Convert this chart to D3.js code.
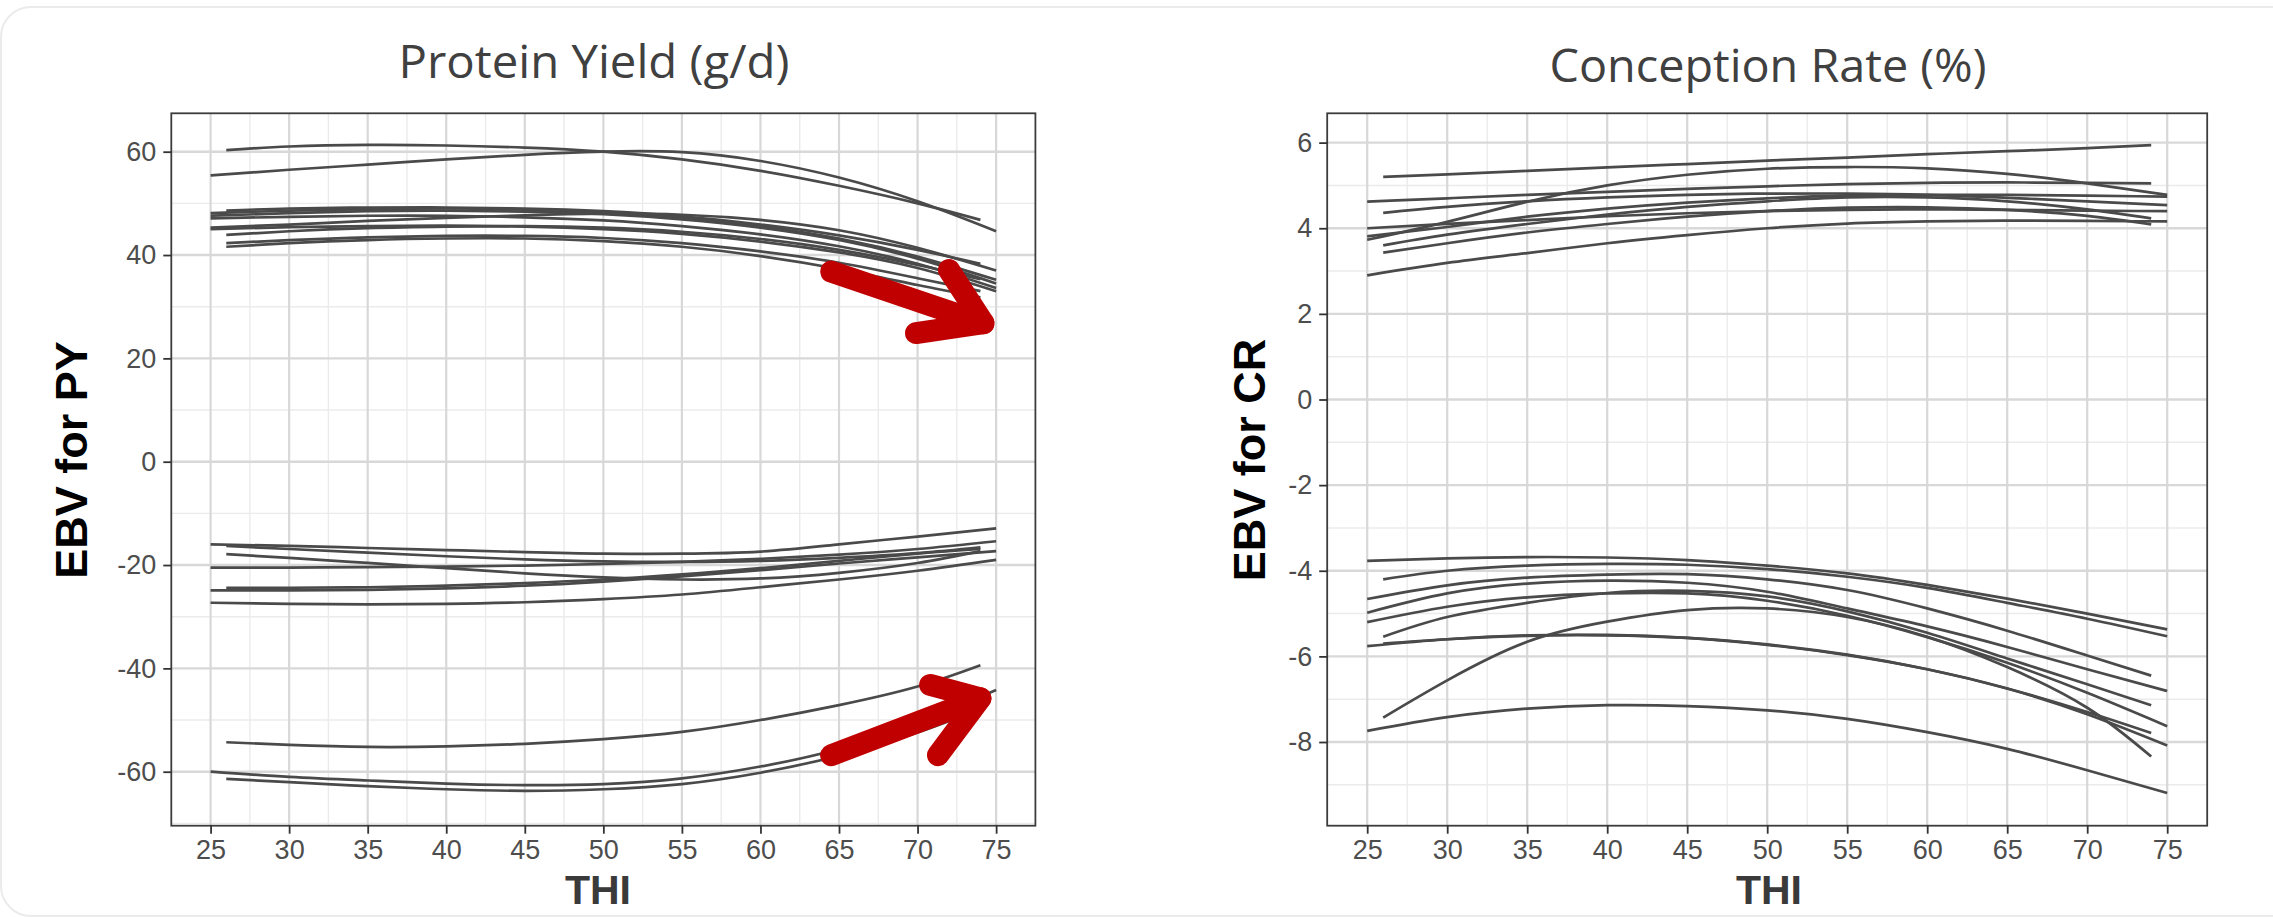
<!DOCTYPE html>
<html>
<head>
<meta charset="utf-8">
<script src="https://cdn.jsdelivr.net/npm/d3@7"></script>
<style>
  html, body { margin: 0; padding: 0; background: #ffffff; }
  svg { display: block; }
</style>
</head>
<body>
<svg id="chart" width="2273" height="917"></svg>
<script>
// THI points at which each reaction-norm curve is sampled:
// first = curve start, then 30..70 every 5, last = curve end.
const thiInner = [30, 35, 40, 45, 50, 55, 60, 65, 70];

// Protein yield EBV (g/d) across THI, one entry per sire curve
const pyCurves = [
  { from: 26, to: 74, ebv: [60.3, 61.0, 61.3, 61.2, 60.8, 60.0, 58.5, 56.3, 53.4, 50.0, 46.8] },
  { from: 25, to: 75, ebv: [55.4, 56.5, 57.5, 58.5, 59.4, 60.0, 59.9, 58.2, 55.0, 50.4, 44.6] },
  { from: 26, to: 74, ebv: [48.6, 49.0, 49.2, 49.2, 49.0, 48.5, 47.5, 45.9, 43.8, 41.0, 38.3] },
  { from: 25, to: 75, ebv: [48.1, 48.6, 48.9, 49.0, 48.8, 48.3, 47.3, 45.6, 43.2, 39.7, 35.2] },
  { from: 25, to: 75, ebv: [47.6, 48.1, 48.5, 48.6, 48.4, 47.9, 46.9, 45.3, 42.9, 39.3, 34.5] },
  { from: 25, to: 75, ebv: [45.3, 45.9, 46.6, 47.2, 47.7, 48.0, 47.8, 46.8, 44.8, 41.4, 37.0] },
  { from: 25, to: 75, ebv: [47.1, 47.4, 47.6, 47.6, 47.3, 46.7, 45.6, 44.0, 41.7, 38.3, 33.6] },
  { from: 25, to: 75, ebv: [45.0, 45.4, 45.6, 45.7, 45.5, 45.0, 44.1, 42.6, 40.5, 37.5, 33.0] },
  { from: 26, to: 74, ebv: [43.9, 44.6, 45.2, 45.5, 45.6, 45.3, 44.5, 43.1, 41.0, 38.1, 35.3] },
  { from: 26, to: 74, ebv: [42.3, 42.9, 43.4, 43.7, 43.7, 43.3, 42.3, 40.7, 38.5, 35.5, 33.0] },
  { from: 26, to: 74, ebv: [41.6, 42.3, 42.9, 43.2, 43.2, 42.7, 41.6, 39.8, 37.3, 34.2, 31.8] },
  { from: 25, to: 75, ebv: [-16.0, -16.3, -16.7, -17.1, -17.5, -17.8, -17.8, -17.4, -16.0, -14.5, -12.9] },
  { from: 26, to: 74, ebv: [-16.3, -16.9, -17.6, -18.3, -18.9, -19.3, -19.4, -19.2, -18.6, -17.7, -16.6] },
  { from: 26, to: 74, ebv: [-17.9, -18.6, -19.6, -20.6, -21.6, -22.4, -22.8, -22.6, -21.5, -19.6, -17.3] },
  { from: 25, to: 75, ebv: [-20.5, -20.5, -20.4, -20.3, -20.1, -19.8, -19.4, -18.8, -18.0, -16.9, -15.4] },
  { from: 25, to: 75, ebv: [-24.9, -24.9, -24.8, -24.5, -24.0, -23.2, -22.2, -21.0, -19.7, -18.5, -17.3] },
  { from: 26, to: 74, ebv: [-24.4, -24.4, -24.3, -24.0, -23.5, -22.8, -21.8, -20.6, -19.2, -17.8, -16.9] },
  { from: 25, to: 75, ebv: [-27.3, -27.5, -27.6, -27.5, -27.2, -26.6, -25.7, -24.3, -22.8, -21.1, -19.0] },
  { from: 26, to: 74, ebv: [-54.3, -54.8, -55.2, -55.1, -54.6, -53.7, -52.3, -50.0, -47.1, -43.5, -39.4] },
  { from: 25, to: 75, ebv: [-60.0, -61.0, -61.7, -62.3, -62.6, -62.4, -61.3, -59.0, -55.6, -50.5, -44.2] },
  { from: 26, to: 74, ebv: [-61.4, -62.0, -62.8, -63.4, -63.7, -63.4, -62.4, -60.2, -56.9, -52.4, -47.8] }
];

// Conception rate EBV (%) across THI
const crCurves = [
  { from: 26, to: 74, ebv: [5.20, 5.26, 5.34, 5.42, 5.50, 5.58, 5.65, 5.73, 5.80, 5.87, 5.94] },
  { from: 25, to: 75, ebv: [3.73, 4.15, 4.62, 5.00, 5.25, 5.39, 5.43, 5.40, 5.27, 5.05, 4.78] },
  { from: 25, to: 74, ebv: [4.62, 4.70, 4.78, 4.85, 4.92, 4.98, 5.03, 5.06, 5.07, 5.06, 5.05] },
  { from: 25, to: 75, ebv: [2.90, 3.19, 3.42, 3.65, 3.84, 4.00, 4.11, 4.16, 4.18, 4.17, 4.16] },
  { from: 25, to: 75, ebv: [4.00, 4.10, 4.19, 4.28, 4.35, 4.40, 4.43, 4.44, 4.43, 4.41, 4.40] },
  { from: 26, to: 75, ebv: [4.36, 4.50, 4.63, 4.72, 4.78, 4.81, 4.81, 4.78, 4.71, 4.63, 4.54] },
  { from: 25, to: 75, ebv: [3.81, 4.03, 4.27, 4.46, 4.60, 4.70, 4.76, 4.78, 4.78, 4.76, 4.74] },
  { from: 26, to: 74, ebv: [3.60, 3.85, 4.10, 4.32, 4.50, 4.63, 4.72, 4.72, 4.63, 4.44, 4.23] },
  { from: 26, to: 74, ebv: [3.43, 3.65, 3.90, 4.10, 4.27, 4.40, 4.48, 4.49, 4.43, 4.29, 4.09] },
  { from: 25, to: 75, ebv: [-3.77, -3.71, -3.68, -3.69, -3.75, -3.88, -4.06, -4.33, -4.65, -5.00, -5.37] },
  { from: 26, to: 75, ebv: [-4.20, -4.00, -3.88, -3.84, -3.86, -3.96, -4.14, -4.40, -4.75, -5.12, -5.53] },
  { from: 25, to: 74, ebv: [-4.66, -4.34, -4.16, -4.09, -4.08, -4.20, -4.45, -4.88, -5.40, -5.98, -6.45] },
  { from: 25, to: 75, ebv: [-4.98, -4.53, -4.30, -4.23, -4.28, -4.49, -4.88, -5.30, -5.78, -6.30, -6.81] },
  { from: 25, to: 75, ebv: [-5.20, -4.84, -4.62, -4.53, -4.53, -4.70, -5.05, -5.55, -6.15, -6.85, -7.63] },
  { from: 26, to: 74, ebv: [-5.54, -5.08, -4.75, -4.52, -4.47, -4.60, -4.95, -5.45, -6.05, -6.65, -7.14] },
  { from: 25, to: 75, ebv: [-5.76, -5.60, -5.51, -5.50, -5.57, -5.73, -5.97, -6.30, -6.75, -7.35, -8.08] },
  { from: 26, to: 74, ebv: [-5.70, -5.60, -5.52, -5.51, -5.57, -5.72, -5.96, -6.30, -6.75, -7.30, -7.79] },
  { from: 26, to: 74, ebv: [-7.43, -6.56, -5.66, -5.19, -4.92, -4.88, -5.08, -5.54, -6.25, -7.20, -8.34] },
  { from: 25, to: 75, ebv: [-7.74, -7.42, -7.22, -7.14, -7.16, -7.26, -7.46, -7.77, -8.16, -8.66, -9.19] }
];

// Axis breaks
const thiTicks = [25, 30, 35, 40, 45, 50, 55, 60, 65, 70, 75];
const thiMinor = [27.5, 32.5, 37.5, 42.5, 47.5, 52.5, 57.5, 62.5, 67.5, 72.5];
const pyTicks = [-60, -40, -20, 0, 20, 40, 60];
const pyMinor = [-70, -50, -30, -10, 10, 30, 50];
const crTicks = [-8, -6, -4, -2, 0, 2, 4, 6];
const crMinor = [-9, -7, -5, -3, -1, 1, 3, 5];

// Hand-drawn red arrows on the PY panel, in [THI, EBV] units:
// shaft start, tip, and the two ends of the arrow head.
const pyArrows = [
  { start: [64.5, 36.8], tip: [74.2, 26.8], headA: [72.0, 37.1], headB: [69.9, 24.9] },
  { start: [64.5, -56.8], tip: [74.0, -45.8], headA: [70.8, -43.2], headB: [71.3, -56.8] }
];

const panels = [
  {
    title: "Protein Yield (g/d)", titleX: 594, titleY: 78, titleLen: 391,
    yLabel: "EBV for PY", yLabelX: 87, yLabelY: 460,
    left: 171.3, right: 1035.4, top: 113.3, bottom: 825.7,
    yDomain: [-70.45, 67.43], yTicks: pyTicks, yMinor: pyMinor,
    curves: pyCurves, arrows: pyArrows, xLabelX: 598
  },
  {
    title: "Conception Rate (%)", titleX: 1768, titleY: 82, titleLen: 437,
    yLabel: "EBV for CR", yLabelX: 1265, yLabelY: 460,
    left: 1327.2, right: 2207.2, top: 113.3, bottom: 825.7,
    yDomain: [-9.955, 6.685], yTicks: crTicks, yMinor: crMinor,
    curves: crCurves, arrows: [], xLabelX: 1769
  }
];

const svg = d3.select("#chart");

// slide card behind the figure
svg.append("rect")
  .attr("x", 1).attr("y", 7)
  .attr("width", 2400).attr("height", 909)
  .attr("rx", 30).attr("ry", 30)
  .attr("fill", "#ffffff")
  .attr("stroke", "#ebebeb")
  .attr("stroke-width", 2);

const tickFont = "'Liberation Sans', Arial, sans-serif";

panels.forEach(p => {
  const x = d3.scaleLinear().domain([22.5, 77.5]).range([p.left, p.right]);
  const y = d3.scaleLinear().domain(p.yDomain).range([p.bottom, p.top]);
  const g = svg.append("g");

  // minor grid
  g.append("g").selectAll("line").data(thiMinor).join("line")
    .attr("x1", d => x(d)).attr("x2", d => x(d))
    .attr("y1", p.top).attr("y2", p.bottom)
    .attr("stroke", "#ebebeb").attr("stroke-width", 1.4);
  g.append("g").selectAll("line").data(p.yMinor.filter(v => y(v) < p.bottom && y(v) > p.top)).join("line")
    .attr("x1", p.left).attr("x2", p.right)
    .attr("y1", d => y(d)).attr("y2", d => y(d))
    .attr("stroke", "#ebebeb").attr("stroke-width", 1.4);

  // major grid
  g.append("g").selectAll("line").data(thiTicks).join("line")
    .attr("x1", d => x(d)).attr("x2", d => x(d))
    .attr("y1", p.top).attr("y2", p.bottom)
    .attr("stroke", "#d8d8d8").attr("stroke-width", 2.2);
  g.append("g").selectAll("line").data(p.yTicks).join("line")
    .attr("x1", p.left).attr("x2", p.right)
    .attr("y1", d => y(d)).attr("y2", d => y(d))
    .attr("stroke", "#d8d8d8").attr("stroke-width", 2.4);

  // curves
  const line = d3.line()
    .x(d => x(d[0])).y(d => y(d[1]))
    .curve(d3.curveNatural);
  g.append("g").selectAll("path").data(p.curves).join("path")
    .attr("d", c => {
      const thi = [c.from, ...thiInner, c.to];
      return line(thi.map((t, i) => [t, c.ebv[i]]));
    })
    .attr("fill", "none")
    .attr("stroke", "#4a4a4a")
    .attr("stroke-width", 2.7);

  // panel border
  g.append("rect")
    .attr("x", p.left).attr("y", p.top)
    .attr("width", p.right - p.left).attr("height", p.bottom - p.top)
    .attr("fill", "none").attr("stroke", "#3c3c3c").attr("stroke-width", 1.8);

  // axes
  const yAxis = g.append("g")
    .attr("transform", `translate(${p.left},0)`)
    .call(d3.axisLeft(y).tickValues(p.yTicks).tickSize(8).tickPadding(7).tickFormat(d3.format("d")));
  const xAxis = g.append("g")
    .attr("transform", `translate(0,${p.bottom})`)
    .call(d3.axisBottom(x).tickValues(thiTicks).tickSize(8).tickPadding(6).tickFormat(d3.format("d")));
  [yAxis, xAxis].forEach(a => {
    a.select(".domain").remove();
    a.selectAll(".tick line").attr("stroke", "#333333").attr("stroke-width", 1.8);
    a.selectAll(".tick text")
      .attr("fill", "#4d4d4d")
      .style("font-family", tickFont)
      .style("font-size", "27px");
  });
  yAxis.selectAll(".tick text").text(d => d < 0 ? "-" + Math.abs(d) : d);

  // titles and axis labels
  svg.append("text")
    .attr("x", p.titleX).attr("y", p.titleY)
    .attr("text-anchor", "middle")
    .attr("textLength", p.titleLen)
    .attr("lengthAdjust", "spacingAndGlyphs")
    .style("font-family", "'Open Sans', 'Noto Sans', sans-serif")
    .style("font-size", "46px")
    .attr("fill", "#404040")
    .text(p.title);

  svg.append("text")
    .attr("transform", `translate(${p.yLabelX},${p.yLabelY}) rotate(-90)`)
    .attr("text-anchor", "middle")
    .style("font-family", tickFont)
    .style("font-weight", "bold")
    .style("font-size", "45px")
    .attr("fill", "#000000")
    .text(p.yLabel);

  svg.append("text")
    .attr("x", p.xLabelX).attr("y", 904)
    .attr("text-anchor", "middle")
    .style("font-family", tickFont)
    .style("font-weight", "bold")
    .style("font-size", "41px")
    .attr("fill", "#3a3a3a")
    .text("THI");

  // red annotation arrows
  const arrowG = svg.append("g")
    .attr("fill", "none")
    .attr("stroke", "#c00000")
    .attr("stroke-width", 22)
    .attr("stroke-linecap", "round")
    .attr("stroke-linejoin", "round");
  p.arrows.forEach(a => {
    const pt = v => [x(v[0]), y(v[1])];
    arrowG.append("path").attr("d", d3.line()([pt(a.start), pt(a.tip)]));
    arrowG.append("path").attr("d", d3.line()([pt(a.headA), pt(a.tip), pt(a.headB)]));
  });
});
</script>
</body>
</html>
